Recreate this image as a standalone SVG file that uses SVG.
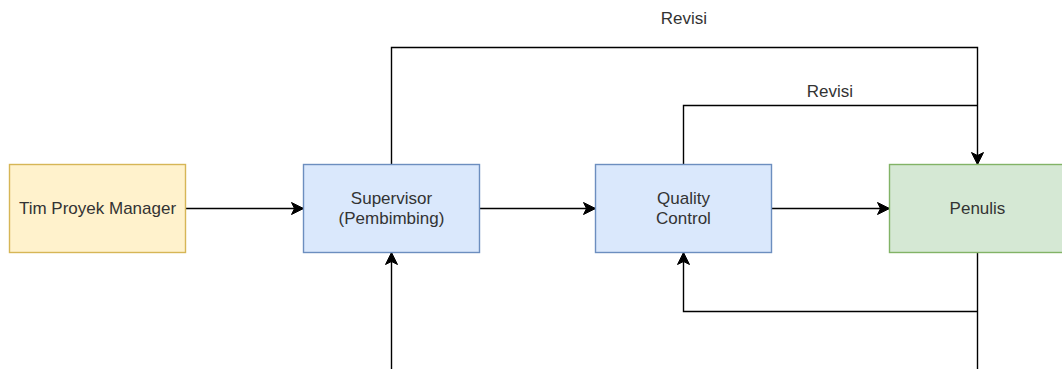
<svg xmlns="http://www.w3.org/2000/svg" width="1062" height="369" viewBox="0 0 1062 369">
<style>
.lbl{font-family:"Liberation Sans",Arial,sans-serif;font-size:17px;fill:#333;text-anchor:middle;dominant-baseline:central}
.edge{fill:none;stroke:#000;stroke-width:1.4}
</style>
<defs>
<marker id="arr" markerUnits="userSpaceOnUse" markerWidth="14" markerHeight="14" viewBox="0 -7 14 14" refX="12" refY="0" orient="auto" overflow="visible">
<path d="M0,-6 L12,0 L0,6 L3,0 Z" fill="#000" stroke="#000" stroke-width="1"/>
</marker>
</defs>
<rect width="1062" height="369" fill="#fff"/>
<g id="edges">
<path class="edge" d="M185.5,208.5 H303.5" marker-end="url(#arr)"/>
<path class="edge" d="M479.5,208.5 H595.5" marker-end="url(#arr)"/>
<path class="edge" d="M771.5,208.5 H889.5" marker-end="url(#arr)"/>
<path class="edge" d="M391.5,164.5 V47.5 H977.5 V164.5" marker-end="url(#arr)"/>
<path class="edge" d="M683.5,164.5 V105.5 H977.5"/>
<path class="edge" d="M391.5,369 V252.5" marker-end="url(#arr)"/>
<path class="edge" d="M977.5,252.5 V369"/>
<path class="edge" d="M977.5,311.5 H683.5 V252.5" marker-end="url(#arr)"/>
<text class="lbl" x="684" y="18">Revisi</text>
<text class="lbl" x="830" y="91">Revisi</text>
</g>
<g id="tim">
<rect x="9.5" y="164.5" width="176" height="88" fill="#fff2cc" stroke="#d6b656" stroke-width="1.4"/>
<text class="lbl" x="97.5" y="208.5">Tim Proyek Manager</text>
</g>
<g id="supervisor">
<rect x="303.5" y="164.5" width="176" height="88" fill="#dae8fc" stroke="#6c8ebf" stroke-width="1.4"/>
<text class="lbl" x="391.5" y="198.5">Supervisor</text>
<text class="lbl" x="391.5" y="218.5">(Pembimbing)</text>
</g>
<g id="qc">
<rect x="595.5" y="164.5" width="176" height="88" fill="#dae8fc" stroke="#6c8ebf" stroke-width="1.4"/>
<text class="lbl" x="683.5" y="198.5">Quality</text>
<text class="lbl" x="683.5" y="218.5">Control</text>
</g>
<g id="penulis">
<rect x="889.5" y="164.5" width="176" height="88" fill="#d5e8d4" stroke="#82b366" stroke-width="1.4"/>
<text class="lbl" x="977.5" y="208.5">Penulis</text>
</g>
</svg>
